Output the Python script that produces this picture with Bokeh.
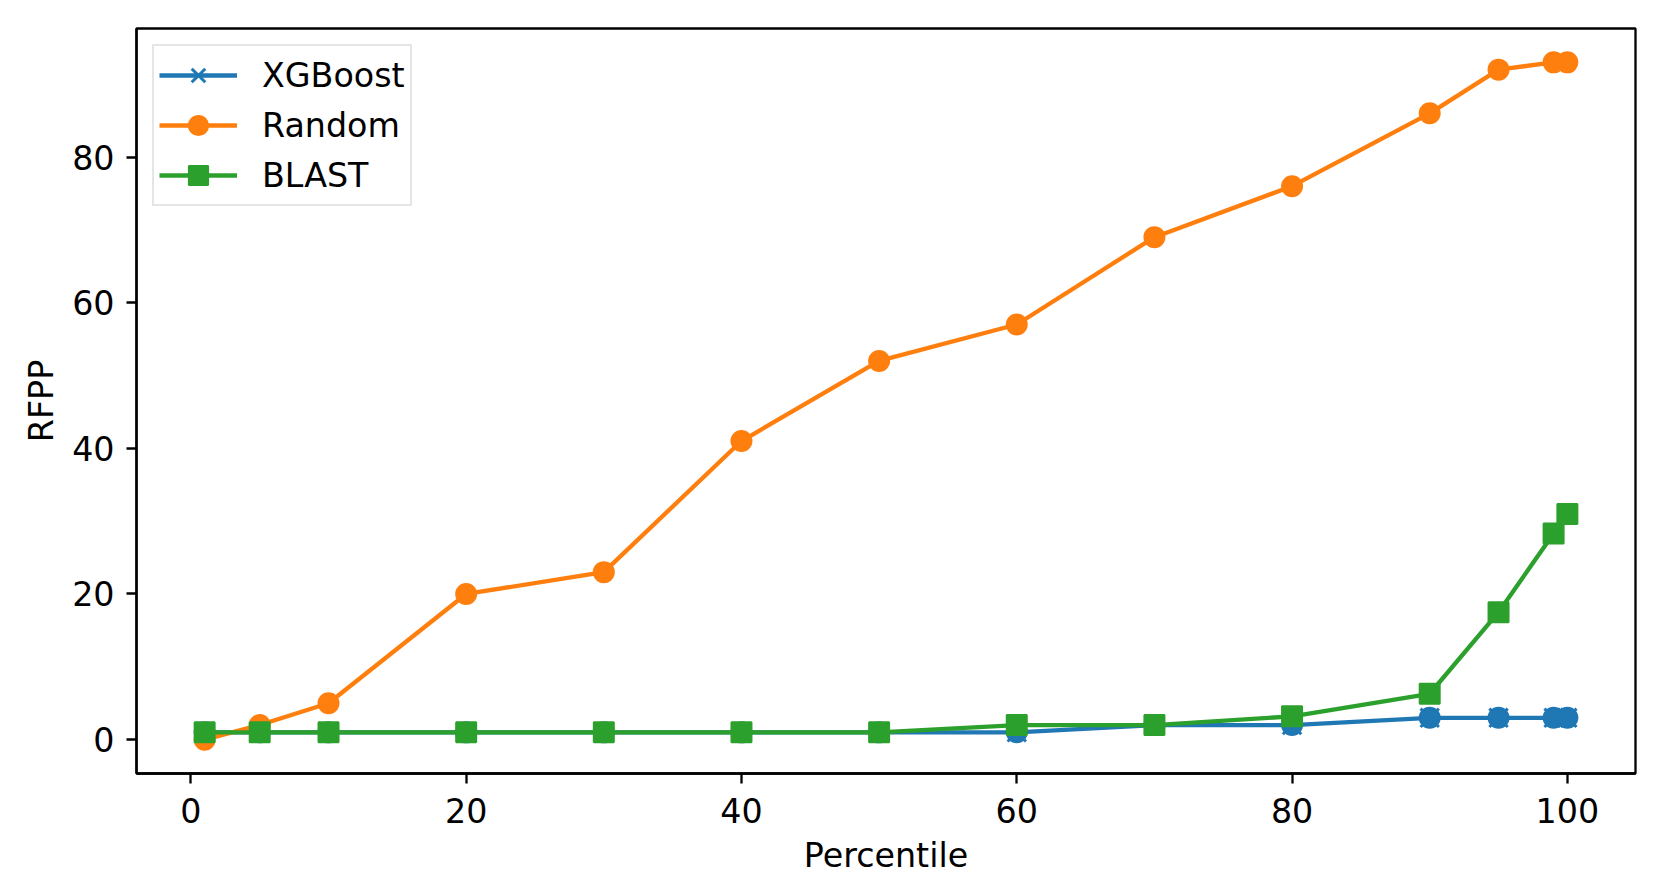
from bokeh.plotting import figure
from bokeh.models import Range1d, FixedTicker, Legend, LegendItem
from bokeh.embed import file_html
from bokeh.resources import INLINE

percentiles = [1, 5, 10, 20, 30, 40, 50, 60, 70, 80, 90, 95, 99, 100]
xgboost = [1, 1, 1, 1, 1, 1, 1, 1, 2, 2, 3, 3, 3, 3]
random_rfpp = [0, 2, 5, 20, 23, 41, 52, 57, 69, 76, 86, 92, 93, 93]
blast = [1, 1, 1, 1, 1, 1, 1, 2, 2, 3.2, 6.3, 17.5, 28.3, 31]
x_ticks = [0, 20, 40, 60, 80, 100]
y_ticks = [0, 20, 40, 60, 80]

BLUE = "#1f77b4"
ORANGE = "#ff7f0e"
GREEN = "#2ca02c"
FONT = "DejaVu Sans"
FS = "33.3px"

p = figure(width=1653, height=885, output_backend="svg", toolbar_location=None,
           x_range=Range1d(-3.95, 104.95), y_range=Range1d(-4.65, 97.65),
           min_border_left=136, min_border_right=18, min_border_top=28, min_border_bottom=112)
p.grid.visible = False
p.outline_line_color = "black"
p.outline_line_width = 2.3
p.background_fill_color = "white"
p.border_fill_color = "white"

for ax in (p.xaxis, p.yaxis):
    ax.axis_line_color = "black"
    ax.axis_line_width = 2.3
    ax.major_tick_line_color = "black"
    ax.major_tick_line_width = 2.3
    ax.major_tick_out = 10
    ax.major_tick_in = 0
    ax.minor_tick_line_color = None
    ax.major_label_text_font = FONT
    ax.major_label_text_font_size = FS
    ax.major_label_text_color = "black"
    ax.axis_label_text_font = FONT
    ax.axis_label_text_font_size = FS
    ax.axis_label_text_font_style = "normal"
    ax.axis_label_text_color = "black"

p.xaxis.ticker = FixedTicker(ticks=x_ticks)
p.yaxis.ticker = FixedTicker(ticks=y_ticks)
p.xaxis.axis_label = "Percentile"
p.yaxis.axis_label = "RFPP"
p.xaxis.major_label_standoff = 14
p.yaxis.major_label_standoff = 12
p.xaxis.axis_label_standoff = 10
p.yaxis.axis_label_standoff = 8

LW = 4.3
# XGBoost
xl = p.line(percentiles, xgboost, line_color=BLUE, line_width=LW)
xx = p.scatter(percentiles, xgboost, marker="x", size=26, line_color=BLUE, line_width=3)
p.scatter(percentiles, xgboost, marker="circle", size=20, fill_color=BLUE, line_color=BLUE, line_width=2)
# Random
rl = p.line(percentiles, random_rfpp, line_color=ORANGE, line_width=LW)
rc = p.scatter(percentiles, random_rfpp, marker="circle", size=20, fill_color=ORANGE, line_color=ORANGE, line_width=2)
# BLAST
bl = p.line(percentiles, blast, line_color=GREEN, line_width=LW)
bs = p.scatter(percentiles, blast, marker="square", size=20, fill_color=GREEN, line_color=GREEN, line_width=2)

legend = Legend(items=[
    LegendItem(label="XGBoost", renderers=[xl, xx]),
    LegendItem(label="Random", renderers=[rl, rc]),
    LegendItem(label="BLAST", renderers=[bl, bs]),
], location="top_left")
legend.label_text_font = FONT
legend.label_text_font_size = FS
legend.label_text_color = "black"
legend.glyph_width = 78
legend.glyph_height = 48
legend.label_height = 39
legend.spacing = 2
legend.padding = 5
legend.margin = 16
legend.label_standoff = 25
legend.border_line_color = "#cccccc"
legend.border_line_width = 2.3
legend.background_fill_color = "white"
legend.background_fill_alpha = 0.8
p.add_layout(legend)

open("out.html", "w").write(file_html(p, INLINE))
